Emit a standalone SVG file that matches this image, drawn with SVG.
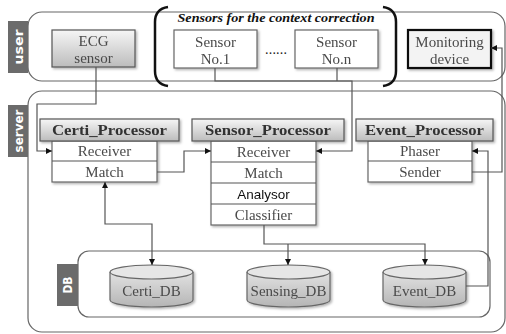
<svg xmlns="http://www.w3.org/2000/svg" width="506" height="334" viewBox="0 0 506 334">
<style>
.cont{fill:#fff;stroke:#666;stroke-width:1.2}
.lab{fill:#6b6b6b}
.labt{fill:#fff;font-family:"DejaVu Sans",sans-serif;font-weight:bold;font-size:13px}
.box{fill:#fff;stroke:#666;stroke-width:1.2}
.hdr{fill:url(#g1);stroke:#555;stroke-width:1.2}
.t{font-family:"Liberation Serif",serif;font-size:15px;fill:#4a4a4a;text-anchor:middle}
.th{font-family:"Liberation Serif",serif;font-size:14px;font-weight:bold;fill:#333;text-anchor:middle}
.ts{font-family:"Liberation Sans",sans-serif;font-size:13.5px;fill:#111;text-anchor:middle}
.ln{fill:none;stroke:#555;stroke-width:1.2}
.br{fill:none;stroke:#111;stroke-width:2.5}
.cyl{fill:url(#g2);stroke:#666;stroke-width:1.2}
.cylt{fill:#e6e6e6;stroke:#666;stroke-width:1.2}
</style>
<defs>
<linearGradient id="g1" x1="0" y1="0" x2="0" y2="1">
<stop offset="0" stop-color="#f6f6f6"/><stop offset="1" stop-color="#bcbcbc"/>
</linearGradient>
<linearGradient id="g2" x1="0" y1="0" x2="0" y2="1">
<stop offset="0" stop-color="#e2e2e2"/><stop offset="1" stop-color="#b5b5b5"/>
</linearGradient>
<filter id="sh" x="-10%" y="-10%" width="130%" height="140%">
<feDropShadow dx="1.5" dy="1.5" stdDeviation="1" flood-color="#000" flood-opacity="0.3"/>
</filter>
<marker id="ar" viewBox="0 0 8 8" refX="8" refY="4" markerWidth="6" markerHeight="6" markerUnits="userSpaceOnUse" orient="auto-start-reverse">
<path d="M0,0 L8,4 L0,8 z" fill="#111"/>
</marker>
</defs>

<g id="user-container">
<rect class="cont" x="28" y="12" width="477" height="69" rx="14"/>
<rect class="lab" x="8" y="21" width="20" height="52"/>
<text class="labt" transform="translate(23,47) rotate(-90)" text-anchor="middle" textLength="35" lengthAdjust="spacingAndGlyphs">user</text>
</g>

<g id="server-container">
<rect class="cont" x="28" y="91" width="477" height="241" rx="14"/>
<rect class="lab" x="8" y="105" width="20" height="52"/>
<text class="labt" transform="translate(23,131) rotate(-90)" text-anchor="middle" textLength="43" lengthAdjust="spacingAndGlyphs">server</text>
</g>

<g id="db-container">
<rect class="cont" x="78" y="251" width="412" height="66" rx="11"/>
<rect class="lab" x="57" y="264" width="21" height="42"/>
<text class="labt" transform="translate(72,285) rotate(-90)" text-anchor="middle" textLength="17" lengthAdjust="spacingAndGlyphs">DB</text>
</g>

<g id="sensors-group">
<path class="br" d="M168,7 Q155,9 155,22 V71 Q155,84 168,86"/>
<path class="br" d="M383,7 Q396,9 396,22 V71 Q396,84 383,86"/>
<text x="276" y="22" font-family="Liberation Serif,serif" font-size="13.5" font-weight="bold" font-style="italic" fill="#111" text-anchor="middle" textLength="197" lengthAdjust="spacingAndGlyphs">Sensors for the context correction</text>
<text x="276" y="54" font-family="Liberation Serif,serif" font-size="14" fill="#222" text-anchor="middle" textLength="22" lengthAdjust="spacing">......</text>
</g>

<g id="ecg-sensor" filter="url(#sh)">
<rect class="hdr" x="52" y="30" width="83" height="37"/>
<text class="t" x="93.5" y="46">ECG</text>
<text class="t" x="93.5" y="63">sensor</text>
</g>

<g id="sensor-no1" filter="url(#sh)">
<rect class="box" x="174" y="30" width="83" height="38"/>
<text class="t" x="215.5" y="47">Sensor</text>
<text class="t" x="215.5" y="64">No.1</text>
</g>

<g id="sensor-non" filter="url(#sh)">
<rect class="box" x="295" y="30" width="83" height="38"/>
<text class="t" x="336.5" y="47">Sensor</text>
<text class="t" x="336.5" y="64">No.n</text>
</g>

<g id="monitoring-device" filter="url(#sh)">
<rect x="408" y="30" width="83" height="38" fill="#f3f3f3" stroke="#111" stroke-width="2.2"/>
<text class="t" x="449.5" y="47">Monitoring</text>
<text class="t" x="449.5" y="64">device</text>
</g>

<g id="certi-processor" filter="url(#sh)">
<rect class="box" x="52" y="141" width="105" height="41"/>
<line class="ln" x1="52" y1="161" x2="157" y2="161"/>
<rect class="hdr" x="40" y="119" width="139" height="22"/>
<text class="th" x="109.5" y="135" textLength="115" lengthAdjust="spacingAndGlyphs">Certi_Processor</text>
<text class="t" x="104.5" y="156">Receiver</text>
<text class="t" x="104.5" y="177">Match</text>
</g>

<g id="sensor-processor" filter="url(#sh)">
<rect class="box" x="211" y="141" width="105" height="84"/>
<line class="ln" x1="211" y1="162" x2="316" y2="162"/>
<line class="ln" x1="211" y1="183" x2="316" y2="183"/>
<line class="ln" x1="211" y1="204" x2="316" y2="204"/>
<rect class="hdr" x="192" y="119" width="152" height="22"/>
<text class="th" x="268" y="135" textLength="126" lengthAdjust="spacingAndGlyphs">Sensor_Processor</text>
<text class="t" x="263.5" y="157">Receiver</text>
<text class="t" x="263.5" y="178">Match</text>
<text class="ts" x="263.5" y="199">Analysor</text>
<text class="t" x="263.5" y="220">Classifier</text>
</g>

<g id="event-processor" filter="url(#sh)">
<rect class="box" x="368" y="141" width="104" height="41"/>
<line class="ln" x1="368" y1="161" x2="472" y2="161"/>
<rect class="hdr" x="356" y="119" width="137" height="22"/>
<text class="th" x="424.5" y="135" textLength="119" lengthAdjust="spacingAndGlyphs">Event_Processor</text>
<text class="t" x="420" y="156">Phaser</text>
<text class="t" x="420" y="177">Sender</text>
</g>

<g id="certi-db" filter="url(#sh)">
<path class="cyl" d="M110,272 V300 A41.5,7 0 0 0 193,300 V272"/>
<ellipse class="cylt" cx="151.5" cy="272" rx="41.5" ry="7"/>
<text class="t" x="151.5" y="296">Certi_DB</text>
</g>

<g id="sensing-db" filter="url(#sh)">
<path class="cyl" d="M247,272 V300 A41.5,7 0 0 0 330,300 V272"/>
<ellipse class="cylt" cx="288.5" cy="272" rx="41.5" ry="7"/>
<text class="t" x="288.5" y="296">Sensing_DB</text>
</g>

<g id="event-db" filter="url(#sh)">
<path class="cyl" d="M383,272 V300 A41.5,7 0 0 0 466,300 V272"/>
<ellipse class="cylt" cx="424.5" cy="272" rx="41.5" ry="7"/>
<text class="t" x="424.5" y="296">Event_DB</text>
</g>

<g id="connectors">
<path class="ln" d="M96,67 V104 H37 V151 H52" marker-end="url(#ar)"/>
<path class="ln" d="M215,68 V81 H352 V151 H316" marker-end="url(#ar)"/>
<path class="ln" d="M337,68 V81"/>
<path class="ln" d="M157,172 H184 V151 H211" marker-end="url(#ar)"/>
<path class="ln" d="M105,182 V224 H152 V265" marker-start="url(#ar)" marker-end="url(#ar)"/>
<path class="ln" d="M264,225 V244 H425 V265" marker-end="url(#ar)"/>
<path class="ln" d="M288,244 V265" marker-end="url(#ar)"/>
<path class="ln" d="M466,286 H488 V151 H472" marker-end="url(#ar)"/>
<path class="ln" d="M472,172 H502 V48 H491" marker-end="url(#ar)"/>
</g>
</svg>
